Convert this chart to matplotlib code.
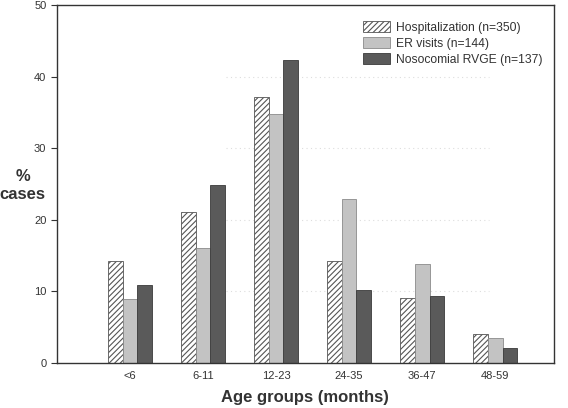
import matplotlib
matplotlib.use("Agg")
import matplotlib.pyplot as plt
import numpy as np

plt.rcParams["font.family"] = ["Liberation Sans", "DejaVu Sans"]
plt.rcParams["hatch.color"] = "#9a9a9a"
plt.rcParams["hatch.linewidth"] = 0.8

# ─── data ─────────────────────────────────────────────────────────────────────
age_groups = ["<6", "6-11", "12-23", "24-35", "36-47", "48-59"]
hospitalization = [14.3, 21.1, 37.2, 14.3, 9.1, 4.0]
er_visits = [9.0, 16.0, 34.8, 22.9, 13.8, 3.5]
nosocomial = [10.9, 24.8, 42.3, 10.2, 9.4, 2.1]
series_labels = ["Hospitalization (n=350)", "ER visits (n=144)",
                 "Nosocomial RVGE (n=137)"]

# ─── plot ─────────────────────────────────────────────────────────────────────
fig = plt.figure(figsize=(5.68, 4.08), dpi=100)
ax = fig.add_axes([0.100, 0.110, 0.875, 0.878])

x = np.arange(1, len(age_groups) + 1)
w = 0.2
ax.bar(x - w, hospitalization, w, color="white", edgecolor="#555555",
       hatch="//////", lw=0.6, label=series_labels[0])
ax.bar(x, er_visits, w, color="#c3c3c3", edgecolor="#8a8a8a", lw=0.6,
       label=series_labels[1])
ax.bar(x + w, nosocomial, w, color="#5a5a5a", edgecolor="#3a3a3a", lw=0.6,
       label=series_labels[2])

# faint dotted gridlines, as in the original scan
for yv in [10, 20, 30, 40]:
    ax.axhline(yv, xmin=0.34, xmax=0.87, color="#dddddd", lw=0.8,
               ls=(0, (1, 3)), zorder=0)

ax.set_xlim(0, 6.8)
ax.set_ylim(0, 50)
ax.set_xticks(x)
ax.set_xticklabels(age_groups, fontsize=8, color="#333333")
ax.tick_params(axis="x", length=0, pad=6)
ax.set_yticks(range(0, 51, 10))
ax.tick_params(axis="y", labelsize=8, length=4, direction="out",
               colors="#333333", labelcolor="#333333")
for s in ax.spines.values():
    s.set_linewidth(1.0)
    s.set_color("#333333")

ax.set_xlabel("Age groups (months)", fontsize=12, fontweight="bold",
              color="#333333", labelpad=6)
fig.text(0.040, 0.545, "%\ncases", fontsize=12, fontweight="bold",
         ha="center", va="center", color="#333333", linespacing=1.3)

ax.legend(loc="upper right", bbox_to_anchor=(1.0, 0.985), frameon=False,
          fontsize=8.7, handlelength=2.2, handleheight=1.0,
          handletextpad=0.55, labelspacing=0.3, labelcolor="#333333")

fig.savefig("out.png", dpi=100)
